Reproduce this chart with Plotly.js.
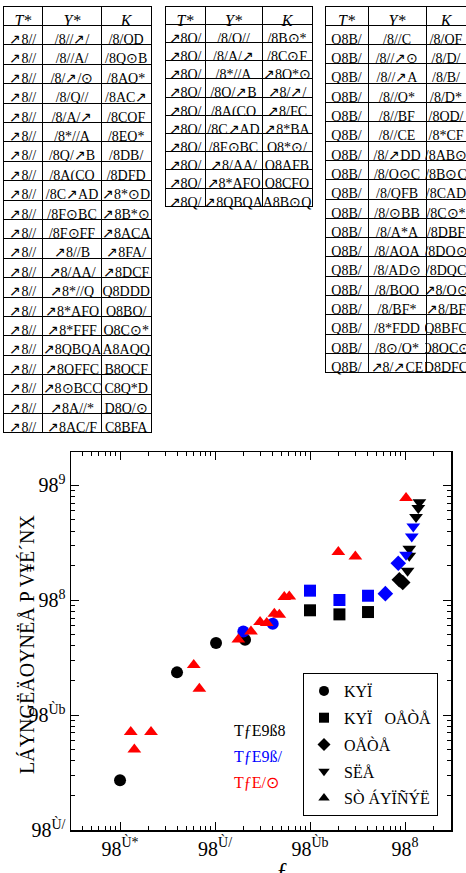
<!DOCTYPE html>
<html><head><meta charset="utf-8">
<script src="https://cdn.plot.ly/plotly-3.0.1.min.js"></script>
<style>html,body{margin:0;padding:0;background:#fff}</style>
</head><body><div id="chart" style="width:466px;height:873px"></div>
<script>
// ---------- table texts ----------
const tableHeader = ['T*', 'Y*', 'K'];

const t1T = ['↗8//','↗8//','↗8//','↗8//','↗8//','↗8//','↗8//','↗8//','↗8//','↗8//','↗8//',
             '↗8//','↗8//','↗8//','↗8//','↗8//','↗8//','↗8//','↗8//','↗8//','↗8//'];
const t1Y = ['/8//↗/','/8//A/','/8/↗/⊙','/8/Q//','/8/A/↗','/8*//A','/8Q/↗B','/8A(CQ','/8C↗AD','/8F⊙BC','/8F⊙FF',
             '↗8//B','↗8/AA/','↗8*//Q','↗8*AFQ','↗8*FFF','↗8QBQA','↗8QFFC','↗8⊙BCC','↗8A//*','↗8AC/F'];
const t1K = ['/8/QD','/8Q⊙B','/8AQ*','/8AC↗','/8CQF','/8EQ*','/8DB/','/8DFD','↗8*⊙D','↗8B*⊙','↗8ACA',
             '↗8FA/','↗8DCF','Q8DDD','Q8BQ/','Q8C⊙*','A8AQQ','B8QCF','C8Q*D','D8Q/⊙','C8BFA'];

const t2T = ['↗8Q/','↗8Q/','↗8Q/','↗8Q/','↗8Q/','↗8Q/','↗8Q/','↗8Q/','↗8Q/','↗8Q/'];
const t2Y = ['/8/Q//','/8/A/↗','/8*//A','/8Q/↗B','/8A(CQ','/8C↗AD','/8F⊙BC','↗8/AA/','↗8*AFQ','↗8QBQA'];
const t2K = ['/8B⊙*','/8C⊙F','↗8Q*⊙','↗8/↗/','↗8/FC','↗8*BA','Q8*⊙/','Q8AFB','Q8CFQ','A8B⊙Q'];

const t3T = ['Q8B/','Q8B/','Q8B/','Q8B/','Q8B/','Q8B/','Q8B/','Q8B/','Q8B/',
             'Q8B/','Q8B/','Q8B/','Q8B/','Q8B/','Q8B/','Q8B/','Q8B/','Q8B/'];
const t3Y = ['/8//C','/8//↗⊙','/8//↗A','/8//Q*','/8//BF','/8//CE','/8/↗DD','/8/Q⊙C','/8/QFB',
             '/8/⊙BB','/8/A*A','/8/AQA','/8/AD⊙','/8/BQQ','/8/BF*','/8*FDD','/8⊙/Q*','↗8/↗CE'];
const t3K = ['/8/QF','/8/D/','/8/B/','/8/D*','/8QD/','/8*CF','/8AB⊙','/8B⊙C','/8CAD',
             '/8C⊙*','/8DBF','/8DQ⊙','/8DQC','↗8/Q⊙','↗8/BF','Q8BFC','Q8QC⊙','D8DFC'];

// ---------- scatter data ----------
const circBlackX = [0.0010, 0.00398, 0.01025, 0.0207];
const circBlackY = [0.0271, 0.2355, 0.4246, 0.453];
const circBlueX  = [0.01986, 0.0405];
const circBlueY  = [0.535, 0.625];

const sqBlackX = [0.100, 0.204, 0.408];
const sqBlackY = [0.817, 0.753, 0.789];
const sqBlueX  = [0.100, 0.204, 0.408];
const sqBlueY  = [1.211, 1.004, 1.094];

const diaBlackX = [0.871, 0.946];
const diaBlackY = [1.507, 1.428];
const diaBlueX  = [0.621, 0.849];
const diaBlueY  = [1.14, 2.10];

const dnBlackX = [1.416, 1.380, 1.306, 1.109, 1.109, 1.064];
const dnBlackY = [7.14, 6.34, 5.29, 2.80, 2.44, 1.806];
const dnBlueX  = [1.222, 1.178, 1.025];
const dnBlueY  = [4.38, 3.59, 2.49];

const upRedX = [1.025, 0.1986, 0.300, 0.0536, 0.0605, 0.0421, 0.0475, 0.0298, 0.0350,
                0.0239, 0.0176, 0.00597, 0.00684, 0.001297, 0.00212, 0.001415];
const upRedY = [7.74, 2.625, 2.40, 1.066, 1.079, 0.763, 0.748, 0.646, 0.634,
                0.535, 0.454, 0.273, 0.170, 0.0714, 0.0714, 0.0501];

const legendNames = ['KYÏ', 'KYÏ   OÅÒÅ', 'OÅÒÅ', 'SËÅ', 'SÒ ÁYÏÑÝË'];
const legendSymbols = ['circle', 'square', 'diamond', 'triangle-down', 'triangle-up'];

const xTickVals = [0.001, 0.01, 0.1, 1];
const xTickText = ['98<sup>Ù*</sup>', '98<sup>Ù/</sup>', '98<sup>Ùb</sup>', '98<sup>8</sup>'];
const yTickVals = [0.01, 0.1, 1, 10];
const yTickText = ['98<sup>Ù/</sup>', '98<sup>Ùb</sup>', '98<sup>8</sup>', '98<sup>9</sup>'];
const xMinorVals = [0.0004, 0.0005, 0.0006, 0.0007, 0.0008, 0.0009,
                    0.002, 0.003, 0.004, 0.005, 0.006, 0.007, 0.008, 0.009,
                    0.02, 0.03, 0.04, 0.05, 0.06, 0.07, 0.08, 0.09,
                    0.2, 0.3, 0.4, 0.5, 0.6, 0.7, 0.8, 0.9, 2, 3];
const yMinorVals = [0.02, 0.03, 0.04, 0.05, 0.06, 0.07, 0.08, 0.09,
                    0.2, 0.3, 0.4, 0.5, 0.6, 0.7, 0.8, 0.9,
                    2, 3, 4, 5, 6, 7, 8, 9];

const annoTexts = ['TƒE9ß8', 'TƒE9ß/', 'TƒE/⊙'];
const annoColors = ['#000000', '#0000ff', '#ff0000'];
const yTitleText = 'LÁYNGËÄOYNËÅ P V¥É´NX';
const xTitleText = 'ƒ';

// ---------- build ----------
const W = 466, H = 873;
const serif = 'Liberation Serif, Times New Roman, serif';

function mkTable(T, Y, K, xd, yd, widths, rowH) {
  return {
    type: 'table',
    domain: {x: xd, y: yd},
    columnwidth: widths,
    header: {values: tableHeader, height: rowH, align: 'center',
             line: {color: '#000', width: 1}, fill: {color: '#fff'},
             font: {family: serif, size: 16, color: '#000', style: 'italic'}},
    cells: {values: [T, Y, K], height: rowH, align: 'center',
            line: {color: '#000', width: 1}, fill: {color: '#fff'},
            font: {family: serif, size: 14, color: '#000'}}
  };
}

function sc(x, y, sym, color, size) {
  return {type: 'scatter', mode: 'markers', x: x, y: y, showlegend: false,
          xaxis: 'x', yaxis: 'y',
          marker: {symbol: sym, color: color, size: size, line: {width: 0}}};
}

const data = [
  mkTable(t1T, t1Y, t1K, [3/W, 152/W], [1 - 449/H, 1 - 6/H], [40, 59, 50], 19.4),
  mkTable(t2T, t2Y, t2K, [165/W, 312/W], [1 - 240/H, 1 - 6/H], [40, 57, 50], 18.2),
  mkTable(t3T, t3Y, t3K, [325/W, 1], [1 - 400/H, 1 - 6/H], [43, 58, 40], 19.3),
  sc(circBlackX, circBlackY, 'circle', '#000', 12),
  sc(circBlueX, circBlueY, 'circle', '#0000ff', 12),
  sc(sqBlackX, sqBlackY, 'square', '#000', 12),
  sc(sqBlueX, sqBlueY, 'square', '#0000ff', 12),
  sc(diaBlackX, diaBlackY, 'diamond', '#000', 12),
  sc(diaBlueX, diaBlueY, 'diamond', '#0000ff', 12),
  sc(dnBlackX, dnBlackY, 'triangle-down', '#000', 12),
  sc(dnBlueX, dnBlueY, 'triangle-down', '#0000ff', 12),
  sc(upRedX, upRedY, 'triangle-up', '#ff0000', 12)
];
legendNames.forEach((n, i) => {
  data.push({type: 'scatter', mode: 'markers', x: [null], y: [null], name: n,
             xaxis: 'x2', yaxis: 'y2',
             legendgroup: 'g' + i, showlegend: true,
             marker: {symbol: legendSymbols[i], color: '#000', size: 10}});
});

const axisCommon = {
  type: 'log', showline: true, linecolor: '#000', linewidth: 1.5, mirror: 'allticks',
  ticks: 'inside', ticklen: 8, tickwidth: 1, tickcolor: '#000',
  showgrid: false, zeroline: false, tickmode: 'array',
  tickfont: {family: serif, size: 20, color: '#000'}
};
const minorCommon = {
  type: 'log', showline: false, mirror: 'allticks', showticklabels: false,
  ticks: 'inside', ticklen: 4, tickwidth: 1, tickcolor: '#000',
  showgrid: false, zeroline: false, tickmode: 'array'
};

const annotations = annoTexts.map((t, i) => ({
  xref: 'paper', yref: 'paper', x: 232/W, y: 1 - [730, 756, 782][i]/H,
  xanchor: 'left', yanchor: 'middle', showarrow: false, text: t,
  font: {family: serif, size: 16, color: annoColors[i]}
}));
annotations.push({xref: 'paper', yref: 'paper', x: 27/W, y: 1 - 645/H, textangle: -90,
  xanchor: 'center', yanchor: 'middle', showarrow: false, text: yTitleText,
  font: {family: serif, size: 20, color: '#000'}});
annotations.push({xref: 'paper', yref: 'paper', x: 282/W, y: 1 - 870/H,
  xanchor: 'center', yanchor: 'middle', showarrow: false, text: xTitleText,
  font: {family: serif, size: 24, color: '#000'}});

const xDom = [71/W, 451/W], yDom = [43/H, 421/H];
const xRange = [-3.516, 0.484], yRange = [-2, 1.29];

const layout = {
  width: W, height: H, margin: {l: 0, r: 0, t: 0, b: 0},
  paper_bgcolor: '#fff', plot_bgcolor: '#fff',
  font: {family: serif, color: '#000'},
  xaxis: Object.assign({}, axisCommon, {domain: xDom, range: xRange,
          tickvals: xTickVals, ticktext: xTickText, anchor: 'y'}),
  yaxis: Object.assign({}, axisCommon, {domain: yDom, range: yRange,
          tickvals: yTickVals, ticktext: yTickText, anchor: 'x'}),
  xaxis2: Object.assign({}, minorCommon, {domain: xDom, range: xRange,
          tickvals: xMinorVals, overlaying: 'x', anchor: 'y2'}),
  yaxis2: Object.assign({}, minorCommon, {domain: yDom, range: yRange,
          tickvals: yMinorVals, overlaying: 'y', anchor: 'x2'}),
  showlegend: true,
  legend: {x: 303/W, y: 1 - 673/H, xanchor: 'left', yanchor: 'top',
           bgcolor: '#fff', bordercolor: '#000', borderwidth: 1,
           tracegroupgap: 3, font: {family: serif, size: 16, color: '#000'}},
  annotations: annotations
};

Plotly.newPlot('chart', data, layout, {staticPlot: true, displayModeBar: false});
</script></body></html>
